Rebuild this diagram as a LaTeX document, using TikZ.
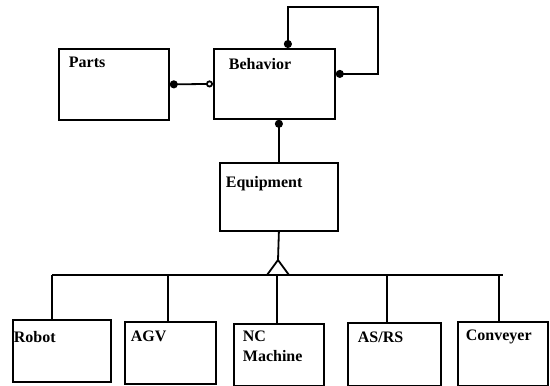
\documentclass[tikz,border=0pt]{standalone}
\usepackage{fontspec}
\setmainfont{Liberation Serif}
\usetikzlibrary{arrows.meta,calc}

\tikzset{
  box/.style={draw, line width=1.8pt, inner sep=0pt, anchor=north west},
  lbl/.style={anchor=north west, inner sep=0pt, align=left,
    font=\fontsize{16}{20}\selectfont\bfseries},
  dotend/.style={-{Circle[length=8pt]}},
  dotstart/.style={{Circle[length=8pt]}-}
}

\begin{document}
\begin{tikzpicture}[x=1pt, y=-1pt, line width=1.8pt]
  \useasboundingbox (0,0) rectangle (550,386);
  \def \busy {275} % height of the bus line

  % classes on top
  \node[box, minimum width=110pt, minimum height=71pt] (parts) at (58,48) {};
  \node[box, minimum width=121pt, minimum height=70pt] (behavior) at (213,48) {};
  \node[box, minimum width=118pt, minimum height=68pt] (equipment) at (219,162) {};
  \node[lbl] (partsT) at ($(parts.north west)+(10,8)$) {Parts};
  \node[lbl] (behaviorT) at ($(behavior.north west)+(15,9)$) {Behavior};
  \node[lbl] (equipmentT) at ($(equipment.north west)+(6,13)$) {Equipment};

  % subclasses
  \node[box, minimum width=98pt, minimum height=62pt] (robot) at (12,319) {};
  \node[box, minimum width=91pt, minimum height=62pt] (agv) at (124,321) {};
  \node[box, minimum width=90pt, minimum height=62pt] (nc) at (233,323) {};
  \node[box, minimum width=93pt, minimum height=63pt] (asrs) at (347,322) {};
  \node[box, minimum width=90pt, minimum height=64pt] (conv) at (457,321) {};
  \node[lbl] (robotT) at ($(robot.north west)+(1,11)$) {Robot};
  \node[lbl] (agvT) at ($(agv.north west)+(6,9)$) {AGV};
  \node[lbl] (ncT) at ($(nc.north west)+(9,7)$) {NC\\Machine};
  \node[lbl] (asrsT) at ($(asrs.north west)+(10,9)$) {AS/RS};
  \node[lbl] (convT) at ($(conv.north west)+(8,8)$) {Conveyer};

  % associations
  \draw[{Circle[length=8pt]}-{Circle[open,length=7pt]}] (parts.east) -- (behavior.west);
  \coordinate (loop) at (378,7);
  \draw[{Circle[length=8pt]}-{Circle[length=8pt]}]
    ($(behavior.north)+(13.5,0)$) |- (loop) |- ($(behavior.east)+(0,-10)$);
  \draw[dotend] (equipment.north) -- (equipment.north |- behavior.south);

  % generalization
  \coordinate (apex) at (278,260);
  \draw (equipment.south) -- (apex);
  \draw (52,\busy) -- (503,\busy);
  \draw[fill=white, line join=miter] (apex) -- ++(-11,15) -- ++(22,0) -- cycle;
  \foreach \b/\x in {robot/52,agv/168,nc/277,asrs/387,conv/499}
  {
    \coordinate (d\b) at (\x,\busy);
    \draw (d\b) -- (d\b |- \b.north);
  }
\end{tikzpicture}
\end{document}
